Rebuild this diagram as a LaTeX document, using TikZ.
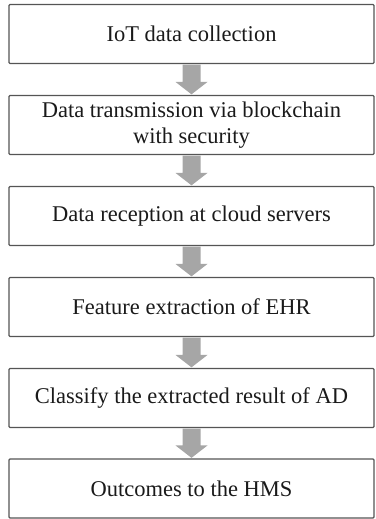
\documentclass[tikz,border=0pt]{standalone}
\usepackage{fontspec}
\setmainfont{Liberation Serif}
\usetikzlibrary{calc}
\definecolor{boxline}{HTML}{555555}
\definecolor{arrowgray}{HTML}{A6A6A6}
\definecolor{txt}{HTML}{1A1A1A}
\tikzset{
  stepbox/.style={draw=boxline, line width=1.1pt, rounded corners=1pt, fill=white,
    minimum width=365pt, minimum height=59pt, inner sep=0pt, align=center,
    text=txt, font=\fontsize{22.5}{26}\selectfont},
}
\newcommand{\flowarrow}[2]{%
  \fill[arrowgray] ($(#1.south)+(-9pt,-0.6pt)$) -- ($(#1.south)+(9pt,-0.6pt)$)
    -- ($(#2.north)+(9pt,13pt)$) -- ($(#2.north)+(16pt,13pt)$)
    -- ($(#2.north)+(0,0.6pt)$) -- ($(#2.north)+(-16pt,13pt)$)
    -- ($(#2.north)+(-9pt,13pt)$) -- cycle;}
\begin{document}
\begin{tikzpicture}[x=1pt,y=1pt]
\useasboundingbox (0,0) rectangle (375,-519);
\node[stepbox] (n1) at (191.5,-34) {IoT data collection};
\node[stepbox] (n2) at (191.5,-125) {Data transmission via blockchain\\with security};
\node[stepbox] (n3) at (191.5,-216) {Data reception at cloud servers};
\node[stepbox] (n4) at (191.5,-307) {Feature extraction of EHR};
\node[stepbox] (n5) at (191.5,-398) {Classify the extracted result of AD};
\node[stepbox] (n6) at (191.5,-488.5) {Outcomes to the HMS};
\flowarrow{n1}{n2}
\flowarrow{n2}{n3}
\flowarrow{n3}{n4}
\flowarrow{n4}{n5}
\flowarrow{n5}{n6}
\end{tikzpicture}
\end{document}
